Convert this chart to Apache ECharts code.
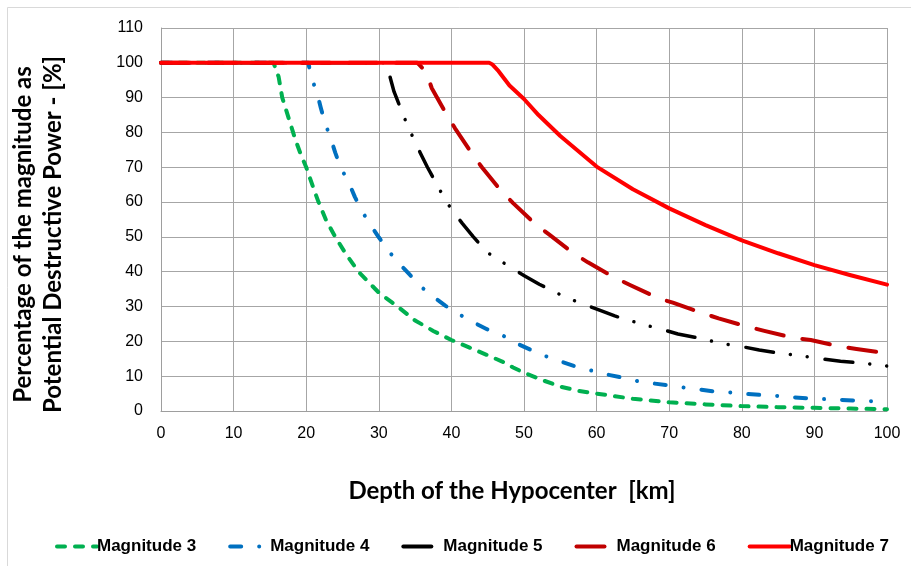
<!DOCTYPE html>
<html>
<head>
<meta charset="utf-8">
<script src="https://cdn.jsdelivr.net/npm/echarts@6/dist/echarts.min.js"></script>
<style>
html,body{margin:0;padding:0;background:#fff;}
#chart{width:911px;height:566px;}
</style>
</head>
<body>
<div id="chart"></div>
<script>
// ---- data ----
const seriesNames = ['Magnitude 3', 'Magnitude 4', 'Magnitude 5', 'Magnitude 6', 'Magnitude 7'];
const xTicks = [0, 10, 20, 30, 40, 50, 60, 70, 80, 90, 100];
const yTicks = [0, 10, 20, 30, 40, 50, 60, 70, 80, 90, 100, 110];

const m3Depth = [0, 15.5, 16.2, 16.7, 17.6, 18.5, 19.2, 20, 21, 21.7, 22.7, 24, 25.5, 27.2, 30, 32.6, 35, 37.5, 40, 42.5, 45, 47, 48.5, 50, 52.5, 55, 57.5, 60, 65, 70, 75, 80, 85, 90, 95, 100];
const m3Value = [100, 100, 96, 90, 84, 78, 74, 70, 64, 60, 55, 50, 45, 40, 34, 30, 26, 23, 20.4, 18.2, 16, 14.2, 12.5, 11, 8.9, 7, 5.8, 5, 3.5, 2.5, 1.9, 1.4, 1.1, 0.9, 0.7, 0.5];

const m4Depth = [0, 20.3, 20.7, 21.4, 22, 22.6, 23.3, 24, 24.8, 25.8, 26.7, 27.7, 28.7, 30, 31.4, 32.7, 34.2, 35.8, 37.4, 39.2, 41.2, 42.9, 44.9, 47, 48.7, 50.8, 52.9, 54.8, 56.9, 59.3, 61.1, 63.3, 65.6, 67.5, 69.7, 72.1, 74.2, 76.3, 78.6, 80.5, 82.8, 85.1, 87.2, 89.4, 91.6, 93.6, 95.9, 98.2, 100];
const m4Value = [100, 100, 95.7, 92, 87.2, 82.6, 78.8, 74.2, 69.7, 65.9, 61.5, 57.4, 53.9, 49.9, 45.8, 42.6, 39.3, 35.7, 33, 30.2, 27.6, 25.6, 23.5, 21.8, 19.7, 17.7, 15.8, 14.4, 12.9, 11.6, 10.6, 9.7, 8.6, 8, 7.4, 6.7, 6.2, 5.6, 5.3, 4.9, 4.6, 4.3, 3.9, 3.6, 3.4, 3.2, 3, 2.8, 2.6];

const m5Depth = [0, 31, 31.5, 32.1, 33.7, 34.7, 35.7, 36.7, 38.8, 40, 41.5, 43, 44.5, 45.1, 46.1, 48, 50.1, 52.1, 55.9, 58.2, 60.4, 62.5, 66.5, 68.9, 71.2, 73.5, 77.7, 80, 82.4, 84.7, 89, 91.2, 93.6, 95.9, 100];
const m5Value = [100, 100, 96.3, 91.7, 83.3, 78.6, 74.2, 70, 62, 57.9, 53.9, 50.1, 46.5, 45.3, 44.1, 41.4, 38.8, 36.4, 32.5, 30.7, 29, 27.3, 24.8, 23.5, 22.1, 21.2, 19.2, 18.5, 17.5, 16.8, 15.6, 14.9, 14.3, 13.9, 12.9];

const m6Depth = [0, 35.3, 35.6, 36.5, 37.3, 39.3, 40.5, 42.9, 44.2, 46.9, 48.5, 51.6, 53.4, 56.8, 58.8, 62.4, 64.6, 68.4, 70.5, 74.6, 76.8, 80.3, 83.1, 87.2, 89.5, 93.6, 95.8, 100];
const m6Value = [100, 100, 99.4, 97.4, 92.7, 85.3, 81.2, 73.7, 70, 63.1, 59.7, 53.6, 50.8, 45.3, 42.7, 38.4, 36.2, 32.5, 31.1, 28.1, 26.6, 24.5, 23, 21, 20.4, 18.5, 17.8, 16.6];

const m7Depth = [0, 45.2, 45.6, 46.5, 48, 50, 52, 55, 60, 65, 70, 75, 80, 85, 90, 95, 100];
const m7Value = [100, 100, 99.6, 97.6, 93.5, 89.6, 85, 79, 70.2, 63.7, 58.2, 53.4, 49, 45.3, 41.9, 39, 36.3];

const depthLists = [m3Depth, m4Depth, m5Depth, m6Depth, m7Depth];
const valueLists = [m3Value, m4Value, m5Value, m6Value, m7Value];

// ---- styles ----
const colors = ['#00b050', '#0070c0', '#000000', '#c00000', '#ff0000'];
const dashes = [[8, 10], [11, 18, 0.01, 18], [28, 17, 0.01, 17, 0.01, 18], [28, 19], 'solid'];
const widths = [4, 4, 3.5, 4, 4];

const chart = echarts.init(document.getElementById('chart'), null, {renderer: 'canvas'});

const series = seriesNames.map((name, i) => ({
  name: name,
  type: 'line',
  data: depthLists[i].map((d, k) => [d, valueLists[i][k]]),
  showSymbol: false,
  symbol: 'none',
  smooth: false,
  z: 2 + i,
  lineStyle: {color: colors[i], width: widths[i], type: dashes[i], cap: 'round', join: 'round'},
  itemStyle: {color: colors[i]},
  emphasis: {disabled: true},
  animation: false
}));

const option = {
  animation: false,
  backgroundColor: '#ffffff',
  textStyle: {fontFamily: 'Liberation Sans, Arial, sans-serif'},
  graphic: [{
    type: 'rect',
    silent: true,
    shape: {x: 7.5, y: 7.5, width: 1000, height: 1000},
    style: {fill: 'none', stroke: '#d9d9d9', lineWidth: 1}
  }],
  grid: {left: 157, right: 24, top: 28, bottom: 155, containLabel: false},
  legend: {
    data: seriesNames,
    left: 50,
    top: 533,
    itemWidth: 40,
    itemHeight: 12,
    itemGap: 32,
    itemStyle: {opacity: 0},
    lineStyle: {width: 4, cap: 'round'},
    textStyle: {fontFamily: 'Liberation Sans, Arial, sans-serif', fontWeight: 'bold', fontSize: 17, color: '#000', padding: [0, 0, 0, -5]}
  },
  xAxis: {
    type: 'value',
    min: xTicks[0],
    max: xTicks[xTicks.length - 1],
    interval: xTicks[1] - xTicks[0],
    name: 'Depth of the Hypocenter  [km]',
    nameLocation: 'middle',
    nameGap: 68,
    nameTextStyle: {fontFamily: 'Lato, Open Sans, sans-serif', fontWeight: 'bold', fontSize: 24, color: '#000', padding: [0, 24, 0, 0]},
    axisLine: {lineStyle: {color: '#9e9e9e', width: 1}},
    axisTick: {show: false},
    axisLabel: {color: '#000', fontSize: 16, margin: 15, fontFamily: 'Liberation Sans, Arial, sans-serif'},
    splitLine: {show: true, lineStyle: {color: '#a6a6a6', width: 1}}
  },
  yAxis: {
    type: 'value',
    min: yTicks[0],
    max: yTicks[yTicks.length - 1],
    interval: yTicks[1] - yTicks[0],
    name: 'Percentage of the magnitude as\nPotential Destructive Power - [%]',
    nameLocation: 'middle',
    nameRotate: 90,
    nameGap: 93,
    nameTextStyle: {fontFamily: 'Lato, Open Sans, sans-serif', fontWeight: 'bold', fontSize: 24, lineHeight: 30, color: '#000', align: 'center', padding: [0, 30, 0, 0]},
    axisLine: {show: true, lineStyle: {color: '#9e9e9e', width: 1}},
    axisTick: {show: false},
    axisLabel: {color: '#000', fontSize: 16, margin: 18, fontFamily: 'Liberation Sans, Arial, sans-serif'},
    splitLine: {show: true, lineStyle: {color: '#a6a6a6', width: 1}}
  },
  series: series
};

chart.setOption(option);
</script>
</body>
</html>
